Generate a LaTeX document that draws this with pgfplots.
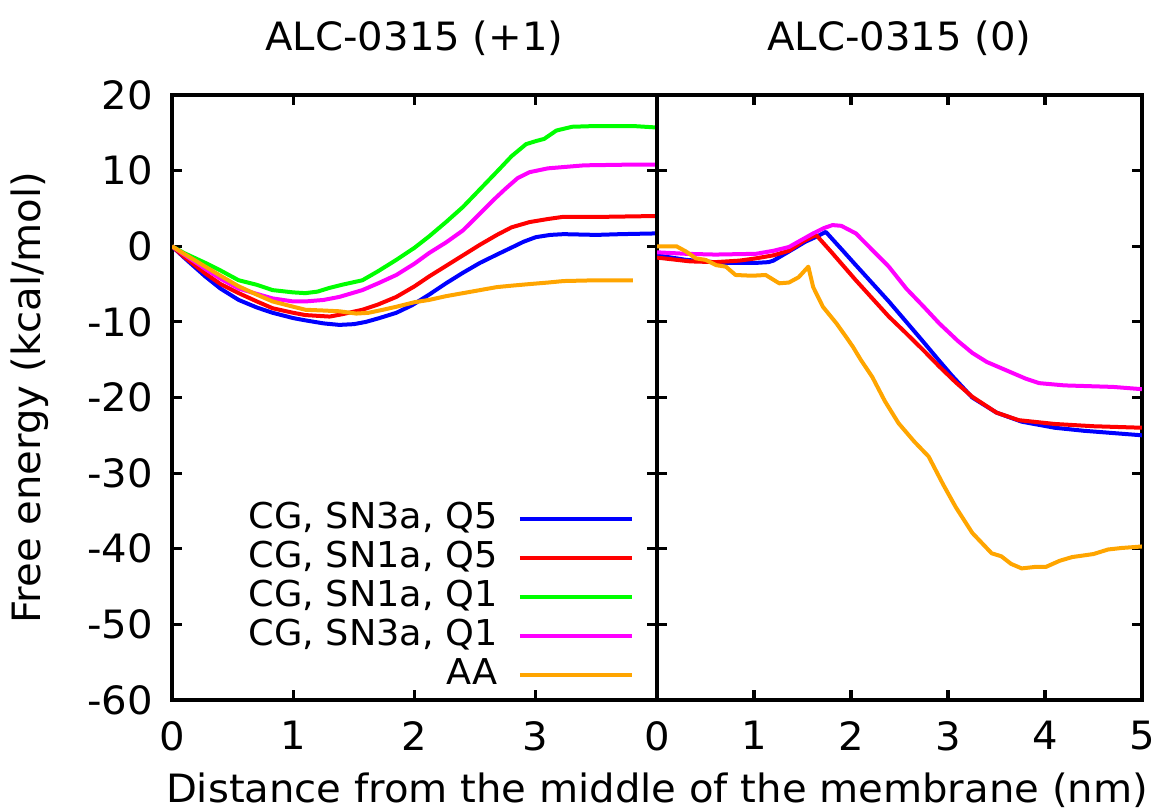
\documentclass[border=0pt]{standalone}
\usepackage{fontspec}
\setmainfont{DejaVu Sans}[FakeStretch=1.03]
\usepackage{pgfplots}
\pgfplotsset{compat=1.18}
\definecolor{cblue}{RGB}{0,0,255}
\definecolor{cred}{RGB}{255,0,0}
\definecolor{cgreen}{RGB}{0,255,0}
\definecolor{cmag}{RGB}{255,0,255}
\definecolor{corange}{RGB}{255,165,0}
\newcommand{\bigf}{\fontsize{19.5}{23}\selectfont}
\pgfplotsset{
  panel/.style={
    scale only axis, width=242.5pt, height=302.5pt,
    anchor=south west,
    ymin=-60, ymax=20, ytick={-60,-50,...,20},
    axis line style={line width=1.6pt},
    every tick/.style={line width=1.6pt, black},
    major tick length=5pt,
    tick align=inside, xtick pos=both, ytick pos=both,
    /pgf/number format/assume math mode=true,
    tick label style={font=\bigf},
    xticklabel style={yshift=-7pt},
    yticklabel style={xshift=-6pt},
    title style={font=\bigf, at={(axis description cs:0.5,1)}, anchor=center, yshift=22.5pt},
    label style={font=\bigf},
    every axis plot/.append style={line width=2pt, no marks, line join=round},
    legend image code/.code={\draw[#1] (0pt,0pt) -- (56pt,0pt);},
  }
}
\begin{document}
\begin{tikzpicture}
\useasboundingbox (0,0) rectangle (581pt,406pt);
\begin{axis}[panel, at={(86pt,56pt)},
  xmin=0, xmax=4, xtick={0,1,2,3},
  title={ALC-0315 (+1)},
  ylabel={Free energy (kcal/mol)},
  ylabel style={at={(axis description cs:-0.293,0.5)}, anchor=center},
  xlabel={Distance from the middle of the membrane (nm)},
  xlabel style={at={(axis description cs:1,-0.150)}, anchor=center, inner sep=0pt},
  legend plot pos=right, legend cell align=right,
  legend style={draw=none, fill=none, inner sep=0pt, outer sep=0pt,
    font=\fontsize{17.8}{21}\selectfont,
    nodes={inner sep=0pt, text height=13.5pt, text depth=3.5pt},
    row sep=2.5pt, /tikz/column sep=10pt,
    at={(axis description cs:1,0)}, anchor=south east, xshift=-11.5pt, yshift=4pt},
]
\addplot[cblue] coordinates {
(0,0) (0.1,-1.5) (0.275,-4.0) (0.4,-5.6) (0.55,-7.1) (0.7,-8.1) (0.83,-8.8) (1.0,-9.5)
(1.1,-9.8) (1.25,-10.2) (1.38,-10.4) (1.5,-10.3) (1.6,-10.0) (1.71,-9.5) (1.85,-8.8)
(1.98,-7.8) (2.12,-6.4) (2.26,-4.9) (2.4,-3.5) (2.54,-2.2) (2.68,-1.1) (2.81,-0.1)
(2.9,0.6) (3.0,1.2) (3.12,1.5) (3.23,1.6) (3.5,1.5) (3.7,1.6) (4.0,1.7)};
\addlegendentry{CG, SN3a, Q5}
\addplot[cred] coordinates {
(0,0) (0.1,-1.4) (0.275,-3.6) (0.4,-5.0) (0.55,-6.2) (0.7,-7.3) (0.83,-8.2) (1.0,-8.8)
(1.1,-9.1) (1.3,-9.3) (1.4,-9.0) (1.57,-8.4) (1.7,-7.7) (1.85,-6.7) (2.0,-5.3)
(2.12,-4.0) (2.26,-2.6) (2.40,-1.2) (2.54,0.2) (2.68,1.5) (2.8,2.5) (2.95,3.2)
(3.1,3.6) (3.23,3.9) (3.6,3.9) (4.0,4.0)};
\addlegendentry{CG, SN1a, Q5}
\addplot[cgreen] coordinates {
(0,0) (0.1,-0.9) (0.275,-2.2) (0.4,-3.2) (0.55,-4.5) (0.7,-5.1) (0.83,-5.8) (1.0,-6.1)
(1.1,-6.2) (1.2,-6.0) (1.3,-5.5) (1.4,-5.1) (1.57,-4.5) (1.7,-3.3) (1.85,-1.8)
(2.0,-0.2) (2.12,1.3) (2.26,3.2) (2.40,5.2) (2.55,7.7) (2.70,10.2) (2.8,11.9)
(2.92,13.5) (3.0,13.9) (3.07,14.2) (3.17,15.3) (3.3,15.8) (3.5,15.9) (3.8,15.9) (4.0,15.7)};
\addlegendentry{CG, SN1a, Q1}
\addplot[cmag] coordinates {
(0,0) (0.1,-1.1) (0.275,-3.0) (0.4,-4.3) (0.55,-5.6) (0.7,-6.3) (0.83,-6.9) (1.0,-7.3)
(1.1,-7.3) (1.25,-7.1) (1.38,-6.7) (1.57,-5.8) (1.7,-4.9) (1.85,-3.8) (2.0,-2.3)
(2.12,-0.9) (2.26,0.5) (2.40,2.1) (2.52,4.0) (2.65,6.1) (2.75,7.6) (2.85,9.0)
(2.95,9.8) (3.1,10.3) (3.4,10.7) (3.8,10.8) (4.0,10.8)};
\addlegendentry{CG, SN3a, Q1}
\addplot[corange] coordinates {
(0,0) (0.1,-1.0) (0.275,-2.7) (0.4,-3.9) (0.55,-5.3) (0.7,-6.4) (0.83,-7.3) (1.0,-8.0)
(1.1,-8.4) (1.25,-8.5) (1.38,-8.6) (1.52,-8.9) (1.62,-8.8) (1.74,-8.4) (1.85,-8.0)
(2.0,-7.4) (2.12,-7.1) (2.26,-6.6) (2.40,-6.2) (2.54,-5.8) (2.68,-5.4) (2.81,-5.2)
(2.95,-5.0) (3.1,-4.8) (3.23,-4.6) (3.5,-4.5) (3.8,-4.5)};
\addlegendentry{AA}
\end{axis}
\begin{axis}[panel, at={(328.5pt,56pt)},
  xmin=0, xmax=5, xtick={0,1,2,3,4,5},
  yticklabels={},
  title={ALC-0315 (0)},
]
\addplot[cblue] coordinates {
(0,-1.2) (0.3,-1.8) (0.68,-2.2) (1.02,-2.2) (1.15,-2.1) (1.2,-1.9) (1.36,-0.7)
(1.53,0.6) (1.65,1.3) (1.74,1.9) (1.91,-0.5) (2.05,-2.5) (2.22,-4.9) (2.39,-7.3)
(2.57,-10.0) (2.73,-12.4) (2.9,-15.0) (3.04,-17.1) (3.25,-20.0) (3.5,-22.0)
(3.76,-23.2) (4.1,-24.0) (4.4,-24.4) (4.7,-24.7) (5.0,-25.0)};
\addplot[cred] coordinates {
(0,-1.5) (0.34,-2.0) (0.6,-2.1) (0.85,-1.9) (1.02,-1.6) (1.2,-1.2) (1.36,-0.6)
(1.5,0.6) (1.64,1.5) (1.8,-0.8) (2.05,-4.5) (2.22,-6.9) (2.39,-9.3) (2.56,-11.4)
(2.75,-13.8) (2.91,-15.9) (3.08,-18.0) (3.25,-19.9) (3.5,-22.0) (3.73,-23.0)
(4.1,-23.5) (4.5,-23.8) (5.0,-24.0)};
\addplot[cmag] coordinates {
(0,-0.8) (0.3,-1.0) (0.6,-1.1) (1.02,-1.0) (1.2,-0.6) (1.36,-0.1) (1.61,1.7)
(1.72,2.4) (1.81,2.8) (1.9,2.7) (2.05,1.7) (2.22,-0.5) (2.39,-2.7) (2.57,-5.6)
(2.75,-8.0) (2.91,-10.2) (3.1,-12.5) (3.25,-14.1) (3.4,-15.3) (3.6,-16.4)
(3.8,-17.5) (3.94,-18.1) (4.2,-18.4) (4.45,-18.5) (4.7,-18.6) (5.0,-18.9)};
\addplot[corange] coordinates {
(0,0.0) (0.2,0.0) (0.3,-0.7) (0.4,-1.6) (0.5,-1.8) (0.61,-2.5) (0.71,-2.7)
(0.81,-3.8) (0.98,-3.9) (1.12,-3.8) (1.26,-4.9) (1.36,-4.8) (1.46,-4.1)
(1.56,-2.7) (1.61,-5.4) (1.71,-8.0) (1.85,-10.2) (1.95,-12.0) (2.02,-13.3)
(2.10,-15.0) (2.22,-17.3) (2.35,-20.5) (2.49,-23.4) (2.65,-25.8) (2.80,-27.8)
(2.95,-31.5) (3.08,-34.5) (3.25,-37.9) (3.45,-40.6) (3.55,-41.0) (3.65,-42.0)
(3.76,-42.6) (3.9,-42.4) (4.01,-42.4) (4.15,-41.6) (4.28,-41.1) (4.5,-40.7)
(4.65,-40.1) (4.79,-39.9) (5.0,-39.7)};
\end{axis}
\end{tikzpicture}
\end{document}
